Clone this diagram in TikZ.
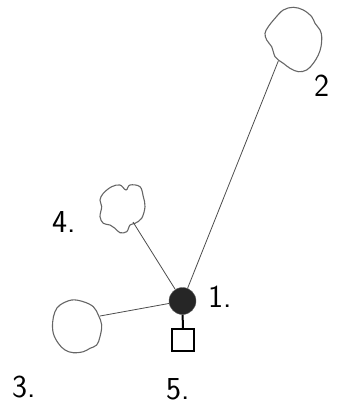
\documentclass[tikz,border=0pt]{standalone}
\begin{document}
\begin{tikzpicture}[x=1pt,y=-1pt,
  blob/.style={draw=black!60,line width=1.1pt,smooth cycle,tension=0.6},
  conn/.style={draw=black!70,line width=0.8pt},
  lbl/.style={font=\sffamily\fontsize{32}{32}\selectfont,inner sep=0pt,anchor=base west},
  hub/.style={circle,fill=black!85,draw=black!60,minimum size=27pt,inner sep=0pt},
  sq/.style={draw=black,line width=1.1pt,minimum size=22pt,inner sep=0pt}]
\useasboundingbox (0,0) rectangle (345,406);
% blob 2
\draw[blob] plot coordinates {(283.3,10) (293.3,7.3) (303.3,10) (311.7,16.7) (315,23.3) (320,30) (321.7,36.7) (321,46.7) (318.3,55) (313.3,63.3) (306.7,70) (298.3,71.7) (290,68.3) (283.3,63.3) (278.3,60) (275,56.7) (273.3,51.7) (271.7,46.7) (266.7,40) (265,33.3) (268.3,26.7) (275,18.3)};
% blob 4
\draw[blob] plot coordinates {(103.3,193.3) (111.7,186.7) (120,185) (126,190) (130,185) (140,186.7) (143.3,196.7) (145,206.7) (141.7,218.3) (135,223.3) (130,225) (126.7,231.7) (120,232.7) (115,228.3) (110,225) (103.3,223.3) (100,216.7) (101.7,206.7) (100,200)};
% blob 3
\draw[blob] plot coordinates {(60,305) (71.7,300) (83.3,301.7) (93.3,306.7) (98.3,315) (101.7,325) (100,336.7) (96.7,345) (90,348.3) (83.3,351.7) (73.3,352.7) (65,350) (58.3,343.3) (53.3,333.3) (52.7,321.7) (55,311.7)};
\coordinate (e2) at (278.3,61);
\coordinate (e4) at (133,222);
\coordinate (e3) at (100,316);
\node[hub] (n1) at (182.5,301) {};
\node[sq] (n5) at (183,340) {};
\draw[conn] (e2) -- (n1);
\draw[conn] (e4) -- (n1);
\draw[conn] (e3) -- (n1);
\draw[line width=2pt] (n1) -- (n5);
\node[lbl] (l1) at (208,307) {1.};
\node[lbl] (l2) at (314,97) {2};
\node[lbl] (l3) at (12,397) {3.};
\node[lbl] (l4) at (52,232) {4.};
\node[lbl] (l5) at (166,399) {5.};
\end{tikzpicture}
\end{document}
